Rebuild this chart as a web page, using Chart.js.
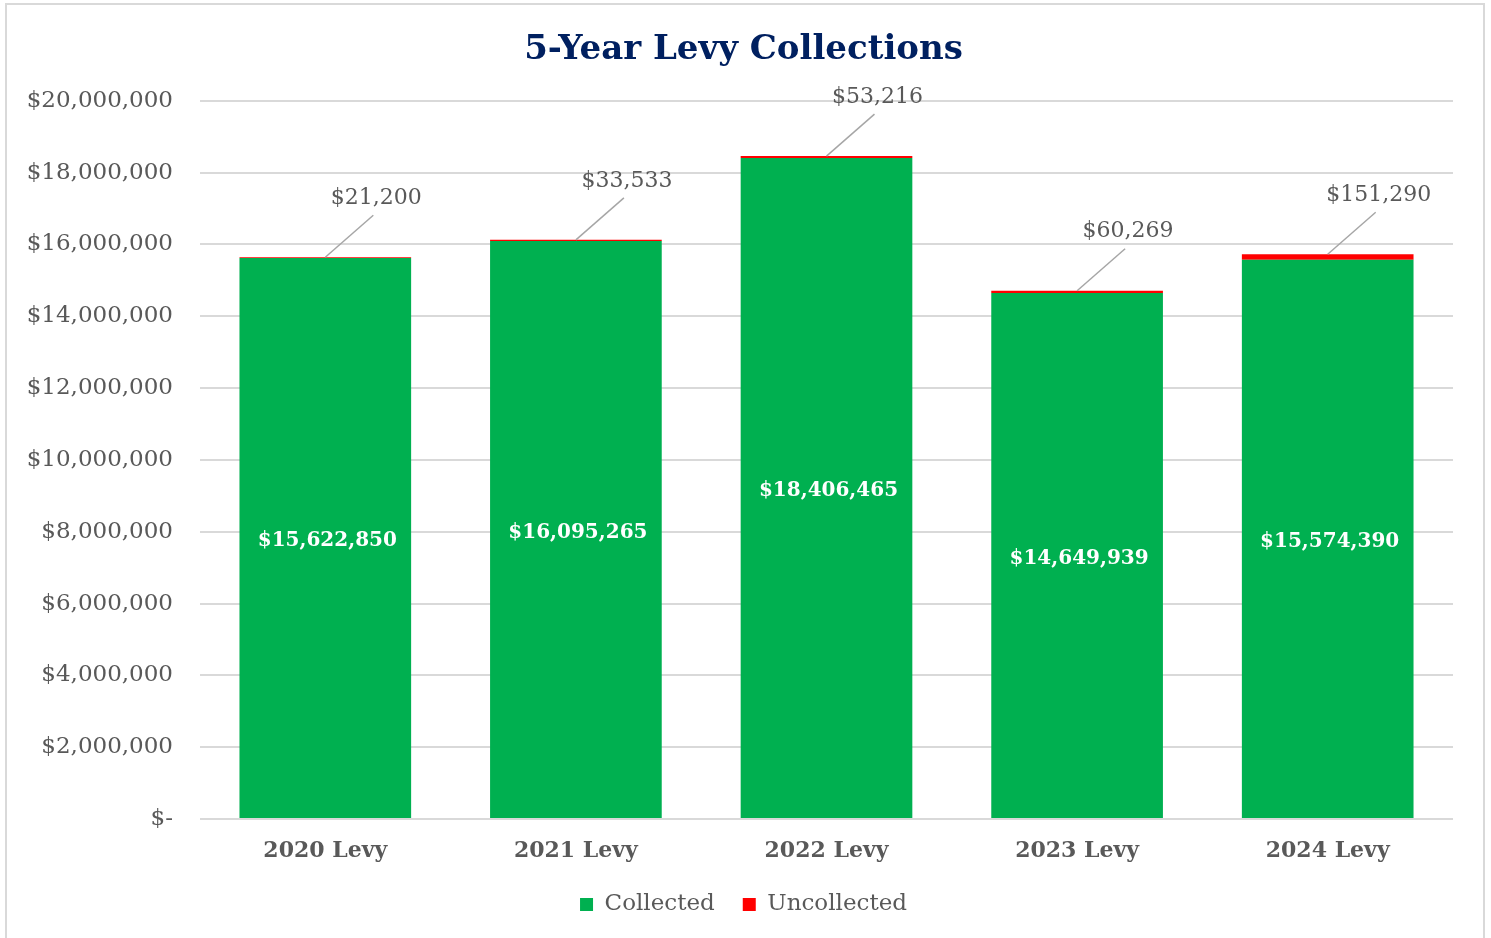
<!DOCTYPE html>
<html>
<head>
<meta charset="utf-8">
<script src="https://cdn.jsdelivr.net/npm/chart.js@4.4.1/dist/chart.umd.min.js"></script>
<style>
  html, body { margin: 0; padding: 0; background: #fff; }
  #frame { position: absolute; left: 5px; top: 3px; width: 1476px; height: 960px; border: 2px solid #d9d9d9; }
  #wrap { position: absolute; left: 0; top: 0; width: 1491px; height: 938px; }
</style>
</head>
<body>
<div id="frame"></div>
<div id="wrap"><canvas id="chart"></canvas></div>
<script>
  const LABELS = ["2020 Levy", "2021 Levy", "2022 Levy", "2023 Levy", "2024 Levy"];
  const COLLECTED = [15622850, 16095265, 18406465, 14649939, 15574390];
  const UNCOLLECTED = [21200, 33533, 53216, 60269, 151290];
  const Y_MAX = 20000000;
  const Y_STEP = 2000000;

  const FONT = "'DejaVu Serif', serif";
  const GREY = "#595959";
  const money = (v) => "$" + Number(v).toLocaleString("en-US");

  // value labels: white in the middle of each green bar, grey callouts for the red caps
  const barLabels = {
    id: "barLabels",
    afterLayout(chart) {
      // the frame is centred on the canvas, not on the padded area
      chart.titleBlock.left += 4; chart.titleBlock.right += 4;
      chart.legend.left += 4; chart.legend.right += 4;
    },
    afterDatasetsDraw(chart) {
      const ctx = chart.ctx;
      ctx.save();
      ctx.textAlign = "center";
      ctx.textBaseline = "middle";

      ctx.fillStyle = "#ffffff";
      ctx.font = `bold 20px ${FONT}`;
      chart.getDatasetMeta(0).data.forEach((bar, i) => {
        ctx.fillText(money(COLLECTED[i]), bar.x + 2, (bar.y + bar.base) / 2 + 3);
      });

      ctx.font = `22px ${FONT}`;
      chart.getDatasetMeta(1).data.forEach((bar, i) => {
        ctx.strokeStyle = "#a6a6a6";
        ctx.lineWidth = 1.5;
        ctx.beginPath();
        ctx.moveTo(bar.x, bar.y);
        ctx.lineTo(bar.x + 48, bar.y - 42);
        ctx.stroke();
        ctx.fillStyle = GREY;
        ctx.fillText(money(UNCOLLECTED[i]), bar.x + 51, bar.y - 59);
      });
      ctx.restore();
    }
  };

  new Chart(document.getElementById("chart"), {
    type: "bar",
    data: {
      labels: LABELS,
      datasets: [
        { label: "Collected", data: COLLECTED, backgroundColor: "#00b050", categoryPercentage: 1, barPercentage: 0.685 },
        { label: "Uncollected", data: UNCOLLECTED, backgroundColor: "#ff0000", categoryPercentage: 1, barPercentage: 0.685 }
      ]
    },
    options: {
      responsive: true,
      maintainAspectRatio: false,
      animation: false,
      layout: { padding: { left: 26, right: 38, top: 0, bottom: 12 } },
      plugins: {
        title: {
          display: true,
          text: "5-Year Levy Collections",
          color: "#002060",
          font: { family: FONT, size: 34, weight: "bold" },
          padding: { top: 30, bottom: 30 }
        },
        legend: {
          position: "bottom",
          labels: {
            color: GREY,
            font: { family: FONT, size: 23 },
            boxWidth: 13,
            boxHeight: 13,
            padding: 28
          }
        },
        tooltip: { enabled: false }
      },
      scales: {
        x: {
          stacked: true,
          afterFit(scale) { scale.height = 46; },
          grid: { display: false, drawTicks: false },
          border: { display: false },
          ticks: { color: GREY, font: { family: FONT, size: 22, weight: "bold" }, padding: 19 }
        },
        y: {
          stacked: true,
          min: 0,
          max: Y_MAX,
          afterFit(scale) { scale.width = 174; },
          grid: { color: "#d9d9d9", lineWidth: 2, drawTicks: false },
          border: { display: false },
          ticks: {
            stepSize: Y_STEP,
            color: GREY,
            padding: 27,
            font: { family: FONT, size: 23 },
            callback: (v) => (v === 0 ? "$-" : money(v))
          }
        }
      }
    },
    plugins: [barLabels]
  });
</script>
</body>
</html>
